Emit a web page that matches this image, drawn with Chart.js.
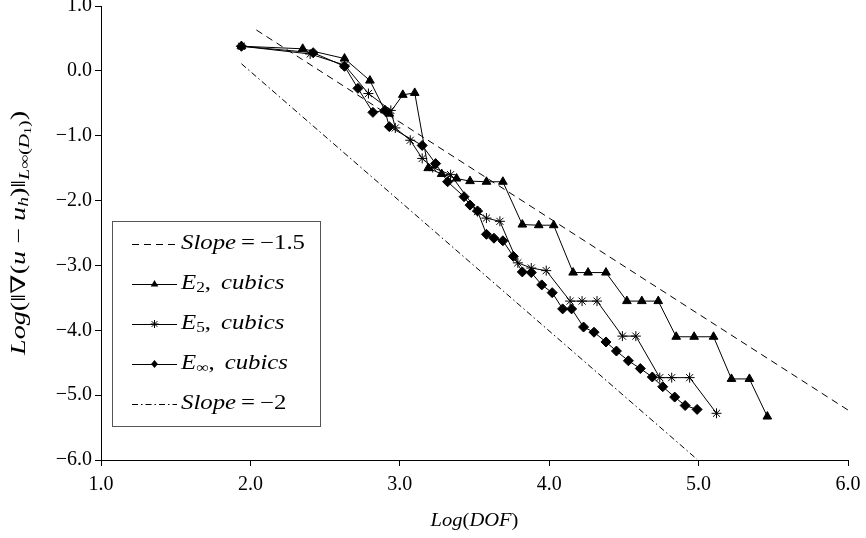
<!DOCTYPE html>
<html>
<head>
<meta charset="utf-8">
<script src="https://cdn.jsdelivr.net/npm/chart.js@4.4.1/dist/chart.umd.min.js"></script>
<style>
  html, body { margin: 0; padding: 0; background: #fff; }
  canvas { display: block; }
</style>
</head>
<body>
<canvas id="errChart" width="866" height="538"></canvas>
<script>
    // data (log-log convergence plot)
    const xTicks = [1, 2, 3, 4, 5, 6];
    const yTicks = [1, 0, -1, -2, -3, -4, -5, -6];

    const slope15X = [2.04, 6.0];
    const slope15Y = [0.63, -5.23];

    const slope2X = [1.94, 4.99];
    const slope2Y = [0.11, -5.99];

    const e2X = [1.94, 2.35, 2.63, 2.80, 2.90, 2.93, 3.02, 3.10, 3.19, 3.28, 3.38, 3.47, 3.58, 3.69,
                 3.82, 3.93, 4.03, 4.16, 4.26, 4.38, 4.52, 4.62, 4.73, 4.85, 4.97, 5.10, 5.22, 5.34, 5.46];
    const e2Y = [0.38, 0.34, 0.19, -0.15, -0.61, -0.66, -0.37, -0.34, -1.50, -1.59, -1.66, -1.70, -1.71, -1.71,
                 -2.37, -2.38, -2.38, -3.11, -3.11, -3.11, -3.55, -3.55, -3.55, -4.10, -4.10, -4.10, -4.75, -4.75, -5.33];

    const e5X = [1.94, 2.40, 2.63, 2.79, 2.94, 2.97, 3.07, 3.15, 3.22, 3.34, 3.52, 3.58, 3.67,
                 3.79, 3.88, 3.98, 4.14, 4.22, 4.32, 4.49, 4.58, 4.74, 4.82, 4.94, 5.12];
    const e5Y = [0.38, 0.26, 0.09, -0.35, -0.61, -0.88, -1.07, -1.35, -1.49, -1.60, -2.17, -2.27, -2.32,
                 -2.96, -3.04, -3.08, -3.55, -3.55, -3.55, -4.09, -4.09, -4.73, -4.73, -4.73, -5.28];

    const eInfX = [1.94, 2.42, 2.63, 2.72, 2.82, 2.90, 2.93, 3.15, 3.24, 3.32, 3.43, 3.47, 3.52, 3.58, 3.63, 3.69,
                   3.76, 3.82, 3.88, 3.95, 4.02, 4.09, 4.15, 4.23, 4.30, 4.38, 4.45, 4.53, 4.61, 4.69, 4.76, 4.84, 4.91, 4.99];
    const eInfY = [0.38, 0.28, 0.07, -0.27, -0.64, -0.61, -0.86, -1.15, -1.43, -1.71, -1.94, -2.07, -2.16, -2.52, -2.58, -2.62,
                   -2.86, -3.10, -3.11, -3.30, -3.42, -3.67, -3.67, -3.95, -4.03, -4.18, -4.32, -4.47, -4.59, -4.72, -4.87, -5.03, -5.16, -5.22];

    const SERIF = '"Liberation Serif", "DejaVu Serif", serif';
    const dashA = [7, 5];
    const dashDot = [6, 3, 1.5, 3];

    function pts(xs, ys) {
        return xs.map((x, i) => ({ x: x, y: ys[i] }));
    }

    function fmt(v) {
        return (v < 0 ? '\u2212' : '') + Math.abs(v).toFixed(1);
    }

    // rich text: runs of {t, i (italic), s (size factor), d (baseline shift), g (extra gap)}
    function runsWidth(ctx, runs, size) {
        let w = 0;
        runs.forEach(r => {
            ctx.font = (r.i ? 'italic ' : '') + (size * (r.s || 1)) + 'px ' + SERIF;
            w += ctx.measureText(r.t).width + (r.g || 0);
        });
        return w;
    }
    // k = horizontal stretch, the TeX fonts run wider than Liberation
    function drawRuns(ctx, runs, x, y, size, k) {
        ctx.save();
        ctx.translate(x, y);
        ctx.scale(k || 1, 1);
        let cx = 0;
        runs.forEach(r => {
            ctx.font = (r.i ? 'italic ' : '') + (size * (r.s || 1)) + 'px ' + SERIF;
            ctx.fillText(r.t, cx, r.d || 0);
            cx += ctx.measureText(r.t).width + (r.g || 0);
        });
        ctx.restore();
    }

    function marker(ctx, style, x, y, r) {
        ctx.save();
        ctx.fillStyle = '#000';
        ctx.strokeStyle = '#000';
        ctx.lineWidth = 1;
        ctx.setLineDash([]);
        ctx.beginPath();
        if (style === 'triangle') {
            ctx.moveTo(x, y - r);
            ctx.lineTo(x + r * 0.95, y + r * 0.6);
            ctx.lineTo(x - r * 0.95, y + r * 0.6);
            ctx.closePath();
            ctx.fill();
        } else if (style === 'rectRot') {
            ctx.moveTo(x, y - r);
            ctx.lineTo(x + r * 0.85, y);
            ctx.lineTo(x, y + r);
            ctx.lineTo(x - r * 0.85, y);
            ctx.closePath();
            ctx.fill();
        } else if (style === 'star') {
            for (let k = 0; k < 4; k++) {
                const a = k * Math.PI / 4;
                ctx.moveTo(x - Math.cos(a) * r, y - Math.sin(a) * r);
                ctx.lineTo(x + Math.cos(a) * r, y + Math.sin(a) * r);
            }
            ctx.stroke();
        }
        ctx.restore();
    }

    const legendItems = [
        { dash: dashA, style: null, runs: [{ t: 'Slope', i: true, g: 4 }, { t: '=', g: 4 }, { t: '\u22121.5' }] },
        { dash: [], style: 'triangle', runs: [{ t: 'E', i: true }, { t: '2', s: 0.7, d: 4 }, { t: ',', g: 8 }, { t: 'cubics', i: true }] },
        { dash: [], style: 'star', runs: [{ t: 'E', i: true }, { t: '5', s: 0.7, d: 4 }, { t: ',', g: 8 }, { t: 'cubics', i: true }] },
        { dash: [], style: 'rectRot', runs: [{ t: 'E', i: true }, { t: '\u221e', s: 0.7, d: 4 }, { t: ',', g: 8 }, { t: 'cubics', i: true }] },
        { dash: dashDot, style: null, runs: [{ t: 'Slope', i: true, g: 4 }, { t: '=', g: 4 }, { t: '\u22122' }] }
    ];

    const yTitle = [
        { t: 'Log', i: true }, { t: '(\u2016\u2207(' }, { t: 'u', i: true }, { t: ' \u2212 ' }, { t: 'u', i: true },
        { t: 'h', i: true, s: 0.7, d: 4 }, { t: ')\u2016' },
        { t: 'L', i: true, s: 0.7, d: 5 }, { t: '\u221e', s: 0.7, d: 5 }, { t: '(', s: 0.7, d: 5 },
        { t: 'D', i: true, s: 0.7, d: 5 }, { t: '1', s: 0.5, d: 8 }, { t: ')', s: 0.7, d: 5 }, { t: ')' }
    ];
    const xTitle = [{ t: 'Log', i: true }, { t: '(' }, { t: 'DOF', i: true }, { t: ')' }];

    const overlay = {
        id: 'overlay',
        afterDraw(chart) {
            const ctx = chart.ctx;
            const area = chart.chartArea;
            ctx.save();
            ctx.fillStyle = '#000';
            ctx.textBaseline = 'middle';

            // x title
            const xk = 1.08;
            const xw = runsWidth(ctx, xTitle, 19) * xk;
            drawRuns(ctx, xTitle, (area.left + area.right) / 2 - xw / 2, 521, 19, xk);

            // y title, rotated, stretched to the reference length
            const yw = runsWidth(ctx, yTitle, 20);
            const yk = 244 / yw;
            ctx.save();
            ctx.translate(20, (area.top + area.bottom) / 2);
            ctx.rotate(-Math.PI / 2);
            drawRuns(ctx, yTitle, -122, 0, 20, yk);
            ctx.restore();

            // legend box
            const bx = 112, by = 221, bw = 208, bh = 205;
            ctx.fillStyle = '#fff';
            ctx.fillRect(bx, by, bw, bh);
            ctx.strokeStyle = '#555';
            ctx.lineWidth = 1;
            ctx.strokeRect(bx + 0.5, by + 0.5, bw, bh);
            ctx.fillStyle = '#000';
            legendItems.forEach((it, i) => {
                const y = by + 23 + i * 40;
                ctx.save();
                ctx.strokeStyle = '#000';
                ctx.lineWidth = 1;
                ctx.setLineDash(it.dash);
                ctx.beginPath();
                ctx.moveTo(132, y + 0.5);
                ctx.lineTo(177, y + 0.5);
                ctx.stroke();
                ctx.restore();
                if (it.style) marker(ctx, it.style, 154.5, y, 4);
                drawRuns(ctx, it.runs, 181, y, 20, 1.24);
            });
            ctx.restore();
        }
    };

    function lineSet(label, xs, ys, style, dash) {
        return {
            label: label,
            data: pts(xs, ys),
            showLine: true,
            borderColor: '#000',
            backgroundColor: '#000',
            borderWidth: 1,
            borderDash: dash || [],
            pointStyle: style || 'circle',
            pointRadius: style ? 5 : 0,
            pointHoverRadius: style ? 5 : 0,
            pointBorderWidth: 1,
            pointBorderColor: '#000',
            pointBackgroundColor: '#000',
            tension: 0
        };
    }

    const canvasEl = document.getElementById('errChart');
    if (canvasEl) {
        new Chart(canvasEl.getContext('2d'), {
            type: 'scatter',
            data: {
                datasets: [
                    lineSet('Slope = -1.5', slope15X, slope15Y, null, dashA),
                    lineSet('Slope = -2', slope2X, slope2Y, null, dashDot),
                    lineSet('E2, cubics', e2X, e2Y, 'triangle'),
                    lineSet('E5, cubics', e5X, e5Y, 'star'),
                    lineSet('Einf, cubics', eInfX, eInfY, 'rectRot')
                ]
            },
            options: {
                responsive: false,
                animation: false,
                layout: { padding: { top: 4, right: 18, left: 0, bottom: 0 } },
                plugins: {
                    legend: { display: false },
                    tooltip: { enabled: false }
                },
                scales: {
                    x: {
                        type: 'linear',
                        min: xTicks[0],
                        max: xTicks[xTicks.length - 1],
                        afterBuildTicks(scale) {
                            scale.ticks = xTicks.map(v => ({ value: v }));
                        },
                        ticks: {
                            color: '#000',
                            padding: 7,
                            maxRotation: 0,
                            font: { family: SERIF, size: 20 },
                            callback: v => fmt(v)
                        },
                        grid: { display: true, drawOnChartArea: false, drawTicks: true, tickLength: 6, color: '#000' },
                        border: { display: true, color: '#000', width: 1 },
                        afterFit(scale) {
                            scale.height = 78;
                            scale.paddingLeft = 0;
                            scale.paddingRight = 0;
                        }
                    },
                    y: {
                        type: 'linear',
                        min: yTicks[yTicks.length - 1],
                        max: yTicks[0],
                        afterBuildTicks(scale) {
                            scale.ticks = yTicks.map(v => ({ value: v }));
                        },
                        ticks: {
                            color: '#000',
                            padding: 3,
                            font: { family: SERIF, size: 20 },
                            callback: v => fmt(v)
                        },
                        grid: { display: true, drawOnChartArea: false, drawTicks: true, tickLength: 6, color: '#000' },
                        border: { display: true, color: '#000', width: 1 },
                        afterFit(scale) {
                            scale.width = 101;
                            scale.paddingTop = 0;
                            scale.paddingBottom = 0;
                        }
                    }
                }
            },
            plugins: [overlay]
        });
    }
</script>
</body>
</html>
